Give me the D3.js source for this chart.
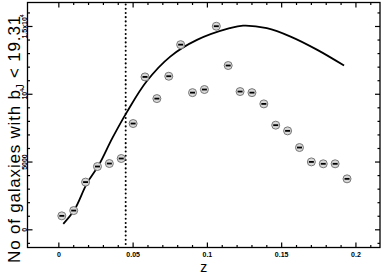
<!DOCTYPE html>
<html>
<head>
<meta charset="utf-8">
<script src="https://cdn.jsdelivr.net/npm/d3@7"></script>
<style>
  body { margin: 0; background: #fff; }
  text { font-family: "Liberation Sans", Arial, sans-serif; }
</style>
</head>
<body>
<div id="chart-area"></div>
<script>
// measured points
var zVals = [0.002, 0.010, 0.018, 0.026, 0.034, 0.042, 0.050, 0.058, 0.066, 0.074, 0.082, 0.090, 0.098,
  0.106, 0.114, 0.122, 0.130, 0.138, 0.146, 0.154, 0.162, 0.170, 0.178, 0.186, 0.194];
var counts = [1030, 1420, 3520, 4670, 4890, 5260, 7840, 11280, 9680, 11330, 13660, 10120, 10350,
  15020, 12120, 10200, 10120, 9290, 7720, 7300, 6070, 5010, 4870, 4870, 3760];

// model curve
var curveZ = [0.003, 0.0105, 0.019, 0.027, 0.036, 0.046, 0.059, 0.075, 0.093, 0.115, 0.124, 0.14, 0.156, 0.174, 0.192];
var curveN = [440, 1475, 3440, 4790, 6760, 8720, 10940, 12780, 14010, 14875, 15066, 14875, 14255, 13274, 12116];

var cutZ = 0.045;

var xTicks = [0, 0.05, 0.1, 0.15, 0.2];
var xTickLabels = ["0", "0.05", "0.1", "0.15", "0.2"];
var yTicks = [0, 5000, 10000, 15000];

var margin = {top: 2.5, right: 2, bottom: 25.5, left: 27.5},
  width = 382 - margin.left - margin.right,
  height = 273 - margin.top - margin.bottom;

var svg = d3.select("#chart-area")
  .append("svg")
  .attr("width", 382)
  .attr("height", 273)
  .append("g")
  .attr("transform", "translate(" + margin.left + "," + margin.top + ")");

var x = d3.scaleLinear().domain([-0.0211, 0.2162]).range([0, width]);
var y = d3.scaleLinear().domain([-1305, 16770]).range([height, 0]);

// frame
svg.append("rect")
  .attr("width", width).attr("height", height)
  .attr("fill", "none").attr("stroke", "#000").attr("stroke-width", 1.3);

// inward ticks on all four sides
var xMinor = d3.range(0, 0.2101, 0.01);
var yMinor = d3.range(-1000, 16001, 1000);

function isMajorX(v) { return Math.abs(v / 0.05 - Math.round(v / 0.05)) < 1e-6; }
function isMajorY(v) { return v % 5000 === 0; }

var ticks = svg.append("g").attr("stroke", "#000").attr("stroke-width", 1.2);
xMinor.forEach(function(v) {
  var len = isMajorX(v) ? 5 : 2.5;
  ticks.append("line").attr("x1", x(v)).attr("x2", x(v)).attr("y1", height).attr("y2", height - len);
  ticks.append("line").attr("x1", x(v)).attr("x2", x(v)).attr("y1", 0).attr("y2", len);
});
yMinor.forEach(function(v) {
  var len = isMajorY(v) ? 5 : 2.5;
  ticks.append("line").attr("y1", y(v)).attr("y2", y(v)).attr("x1", 0).attr("x2", len);
  ticks.append("line").attr("y1", y(v)).attr("y2", y(v)).attr("x1", width).attr("x2", width - len);
});

// x tick labels
svg.append("g").selectAll("text")
  .data(xTicks)
  .enter().append("text")
  .attr("x", function(d) { return x(d); })
  .attr("y", height + 9.5)
  .attr("text-anchor", "middle")
  .attr("font-size", "7px")
  .attr("font-weight", "bold")
  .text(function(d, i) { return xTickLabels[i]; });

// y tick labels (rotated)
var yl = svg.append("g");
yTicks.forEach(function(v) {
  var t = yl.append("text")
    .attr("transform", "translate(-1," + y(v) + ") rotate(-90)")
    .attr("text-anchor", "middle")
    .attr("font-size", "7px")
    .attr("font-weight", "bold");
  if (v === 0) t.text("0");
  else if (v === 5000) t.text("5000");
  else if (v === 10000) {
    t.append("tspan").text("10");
    t.append("tspan").attr("dy", -2.5).attr("font-size", "5px").text("4");
  } else {
    t.append("tspan").text("1.5x10");
    t.append("tspan").attr("dy", -2.5).attr("font-size", "5px").text("4");
  }
});

// axis titles
svg.append("text")
  .attr("x", width / 2)
  .attr("y", height + 24)
  .attr("text-anchor", "middle")
  .attr("font-size", "14px")
  .text("z");

var yt = svg.append("text")
  .attr("transform", "translate(-8," + (height / 2 + 14) + ") rotate(-90)")
  .attr("text-anchor", "middle")
  .attr("font-size", "17px")
  .attr("letter-spacing", "0.8px")
  .text("No of galaxies with b");
yt.append("tspan").attr("dy", 4).attr("font-size", "10px").text("J");
yt.append("tspan").attr("dy", -4).text(" < 19.31");

// dotted cut line
svg.append("line")
  .attr("x1", x(cutZ)).attr("x2", x(cutZ))
  .attr("y1", 2).attr("y2", height)
  .attr("stroke", "#000")
  .attr("stroke-width", 2)
  .attr("stroke-linecap", "round")
  .attr("stroke-dasharray", "0.1,4.1");

// model curve
var line = d3.line()
  .x(function(d) { return x(d[0]); })
  .y(function(d) { return y(d[1]); })
  .curve(d3.curveCatmullRom);
svg.append("path")
  .datum(d3.zip(curveZ, curveN))
  .attr("d", line)
  .attr("fill", "none")
  .attr("stroke", "#000")
  .attr("stroke-width", 1.8);

// data points
var pts = svg.append("g").selectAll("g")
  .data(d3.zip(zVals, counts))
  .enter().append("g")
  .attr("transform", function(d) { return "translate(" + x(d[0]) + "," + y(d[1]) + ")"; });
pts.append("circle")
  .attr("r", 4)
  .attr("fill", "#d8d8d8")
  .attr("stroke", "#777")
  .attr("stroke-width", 1);
pts.append("line")
  .attr("x1", -2.5).attr("x2", 2.5)
  .attr("stroke", "#000")
  .attr("stroke-width", 1.8);
</script>
</body>
</html>
